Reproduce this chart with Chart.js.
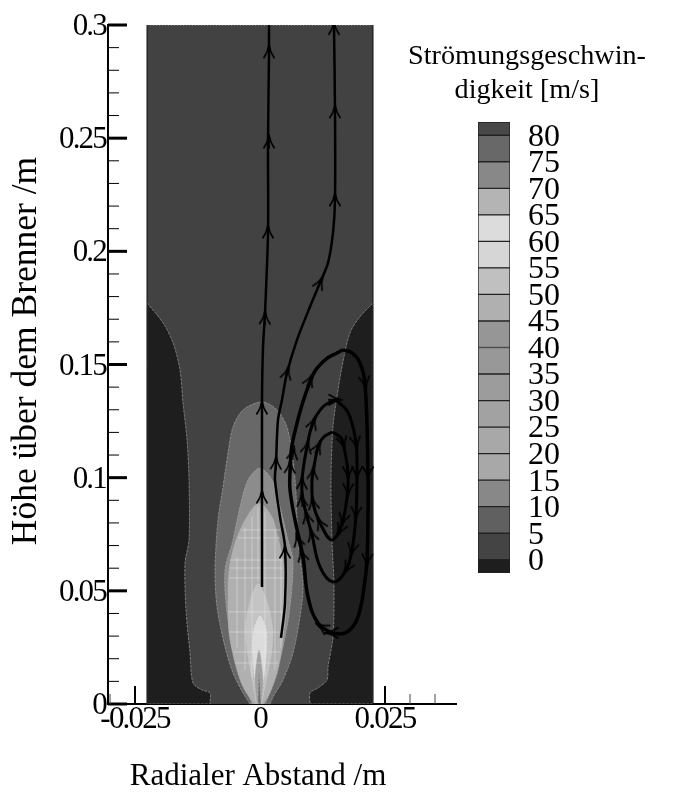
<!DOCTYPE html>
<html>
<head>
<meta charset="utf-8">
<title>Strömungsgeschwindigkeit</title>
<script src="https://cdn.jsdelivr.net/npm/chart.js@4"></script>
<style>
  html, body { margin: 0; padding: 0; background: #fff; }
  #wrap { position: relative; width: 679px; height: 799px; overflow: hidden; }
  #myChart { position: absolute; left: 0; top: 0; }
  #legendChart { position: absolute; left: 478px; top: 72px; }
</style>
</head>
<body>
<div id="wrap">
  <canvas id="myChart" width="679" height="799"></canvas>
  <canvas id="legendChart" width="120" height="551"></canvas>
</div>
<script>
// Axis ticks
const xMajorTicks = [-0.025, 0, 0.025];
const xMinorTicks = [-0.03, -0.02, -0.015, -0.01, -0.005, 0.005, 0.01, 0.015, 0.02, 0.03, 0.035];
const yMajorTicks = [0, 0.05, 0.1, 0.15, 0.2, 0.25, 0.3];
const yMinorTicks = [0.01, 0.02, 0.03, 0.04, 0.06, 0.07, 0.08, 0.09, 0.11, 0.12, 0.13, 0.14,
  0.16, 0.17, 0.18, 0.19, 0.21, 0.22, 0.23, 0.24, 0.26, 0.27, 0.28, 0.29];

// Contour regions, [radius, height] in metres
const domainOutline = [[-0.0226, 0], [-0.0226, 0.3], [0.0226, 0.3], [0.0226, 0]];
const darkLeft = [[-0.0226, 0.1772], [-0.0194, 0.1684], [-0.0174, 0.1596], [-0.016, 0.1476], [-0.0154, 0.133],
  [-0.0146, 0.1167], [-0.0142, 0.099], [-0.0142, 0.0725], [-0.015, 0.0623], [-0.0148, 0.0415], [-0.014, 0.0225],
  [-0.0134, 0.0093], [-0.0116, 0.0062], [-0.01, 0.0049], [-0.01, 0], [-0.0226, 0]];
const darkRight = [[0.0226, 0.1772], [0.02, 0.1711], [0.018, 0.164], [0.0164, 0.149], [0.0154, 0.1357],
  [0.0146, 0.1224], [0.0142, 0.099], [0.0144, 0.0725], [0.0148, 0.0517], [0.0146, 0.0296], [0.0136, 0.0164],
  [0.0134, 0.0106], [0.0116, 0.0071], [0.01, 0.0049], [0.01, 0], [0.0226, 0]];
const level10 = [[-0.002, 0], [-0.0034, 0.0049], [-0.0054, 0.0137], [-0.007, 0.0252], [-0.0086, 0.0429], [-0.009, 0.0592],
  [-0.0084, 0.0813], [-0.0074, 0.0959], [-0.0064, 0.1109], [-0.0054, 0.1224], [-0.0034, 0.1299], [0.0004, 0.1335],
  [0.0034, 0.1299], [0.0054, 0.1224], [0.0066, 0.1078], [0.0072, 0.0933], [0.0076, 0.0725], [0.0086, 0.0517],
  [0.008, 0.0385], [0.0066, 0.0225], [0.0046, 0.0106], [0.0026, 0.0031], [0.002, 0]];
const level15 = [[-0.0016, 0], [-0.0034, 0.0106], [-0.005, 0.0225], [-0.0066, 0.0402], [-0.007, 0.0592], [-0.0054, 0.0725],
  [-0.004, 0.0871], [-0.0024, 0.099], [0, 0.1043], [0.0024, 0.099], [0.004, 0.0871], [0.0056, 0.0725], [0.0066, 0.0636],
  [0.006, 0.0429], [0.0046, 0.0252], [0.0026, 0.0093], [0.0014, 0.0018], [0.001, 0]];
const level20 = [[-0.0012, 0], [-0.0034, 0.0075], [-0.005, 0.0181], [-0.0062, 0.0314], [-0.0064, 0.0482], [-0.0062, 0.0592],
  [-0.005, 0.0712], [-0.003, 0.0813], [-0.0002, 0.0888], [0.0024, 0.0827], [0.0036, 0.0738], [0.0046, 0.0636],
  [0.0054, 0.0504], [0.0046, 0.0283], [0.0036, 0.015], [0.002, 0.0049], [0.0006, 0]];
const level50 = [[-0.0008, 0], [-0.0026, 0.0225], [-0.003, 0.034], [-0.002, 0.046], [-0.0004, 0.0535],
  [0.0014, 0.046], [0.0026, 0.034], [0.0024, 0.0225], [0.0004, 0]];
const level60 = [[-0.0006, 0], [-0.0016, 0.0225], [-0.0014, 0.0327], [0, 0.0393], [0.0014, 0.0327], [0.0014, 0.0225], [0.0002, 0]];
const coreOuter = [[-0.0006, 0], [-0.001, 0.0106], [-0.0002, 0.0239], [0.0006, 0.0106], [0.0002, 0]];
const coreInner = [[-0.0004, 0], [-0.0002, 0.0141], [0.0002, 0]];
const contourRegions = [darkLeft, darkRight, level10, level15, level20, level50, level60, coreOuter, coreInner];
const contourColors = ['#1e1e1e', '#1e1e1e', '#686868', '#8c8c8c', '#b0b0b0', '#c4c4c4', '#dcdcdc', '#a0a0a0', '#6a6a6a'];

// Light mesh lines showing through the jet core, [height, from, to]
const meshRows = [[0.0769, -0.0036, 0.004], [0.0734, -0.0044, 0.004], [0.0636, -0.006, 0.0046], [0.0601, -0.006, 0.0046],
  [0.0557, -0.0062, 0.005], [0.0407, -0.0064, 0.005], [0.0318, -0.0062, 0.0048], [0.023, -0.0052, 0.004], [0.0181, -0.005, 0.0036]];
const meshColumns = [[-0.0046, 0.025, 0.065], [-0.003, 0.015, 0.078], [-0.0016, 0.012, 0.083], [-0.0004, 0.054, 0.087],
  [0.001, 0.012, 0.085], [0.003, 0.015, 0.077], [0.0042, 0.025, 0.065]];

// Streamlines
const streamCentre = [[0.0004, 0.0517], [0.0004, 0.0725], [0.0004, 0.1335], [0.0006, 0.1574], [0.001, 0.1728],
  [0.0016, 0.2082], [0.0016, 0.248], [0.0018, 0.2877], [0.0018, 0.3]];
const streamOuter = [[0.0042, 0.0292], [0.005, 0.0446], [0.005, 0.0694], [0.004, 0.0827], [0.003, 0.099], [0.0032, 0.1065],
  [0.0036, 0.1255], [0.0044, 0.1344], [0.0054, 0.1463], [0.0074, 0.1609], [0.01, 0.1755], [0.012, 0.1861], [0.0136, 0.1949],
  [0.0146, 0.2082], [0.015, 0.2228], [0.015, 0.2617], [0.0148, 0.3]];
const vortexLarge = [[0.0166, 0.1565], [0.0184, 0.1551], [0.02, 0.1507], [0.021, 0.1419], [0.0216, 0.1021], [0.0216, 0.0844], [0.0214, 0.0636],
  [0.021, 0.0548], [0.0196, 0.0385], [0.0174, 0.0318], [0.0146, 0.0314], [0.0116, 0.0358], [0.0096, 0.0473], [0.0086, 0.065],
  [0.007, 0.0813], [0.006, 0.0946], [0.006, 0.1021], [0.0066, 0.1167], [0.0104, 0.1445], [0.013, 0.152], [0.0154, 0.1551], [0.0166, 0.1565]];
const vortexMiddle = [[0.015, 0.1344], [0.017, 0.1308], [0.018, 0.1269], [0.0192, 0.1154], [0.0194, 0.1021], [0.0192, 0.0844], [0.0184, 0.0681],
  [0.017, 0.0583], [0.0146, 0.0539], [0.012, 0.0606], [0.0104, 0.0747], [0.0086, 0.0902], [0.0084, 0.099], [0.0094, 0.1136],
  [0.0106, 0.1242], [0.0126, 0.1313], [0.015, 0.1344]];
const vortexSmall = [[0.0144, 0.1202], [0.016, 0.118], [0.0166, 0.1154], [0.0176, 0.1021], [0.0174, 0.0915], [0.0164, 0.08], [0.0144, 0.0725],
  [0.012, 0.08], [0.0106, 0.0888], [0.0104, 0.099], [0.0106, 0.1021], [0.0116, 0.1136], [0.0126, 0.1176], [0.0144, 0.1202]];

// Arrow heads on the streamlines, [radius, height, heading in degrees]
const arrowHeads = [
  [0.0004, 0.0915, 0], [0.0004, 0.1308, 0], [0.001, 0.1706, 2], [0.0016, 0.2086, 0], [0.0018, 0.2484, 0], [0.0018, 0.2882, 0],
  [0.005, 0.0672, 0], [0.0032, 0.1065, 2], [0.0054, 0.1463, 15], [0.012, 0.1861, 25], [0.015, 0.2228, 0], [0.015, 0.2617, 0], [0.0148, 0.2985, 0],
  [0.01, 0.1432, 25], [0.0066, 0.1109, 8], [0.006, 0.1048, 3], [0.0084, 0.0659, -15], [0.0076, 0.0725, -15],
  [0.021, 0.1419, 172], [0.0216, 0.1021, 180], [0.0214, 0.0636, 183], [0.0124, 0.034, -60], [0.0144, 0.0314, -90],
  [0.0106, 0.1242, 20], [0.0094, 0.1136, 12], [0.0084, 0.0977, 2], [0.0084, 0.0902, -4], [0.0094, 0.0827, -12], [0.0104, 0.0747, -15],
  [0.015, 0.1344, 90], [0.0192, 0.1154, 170], [0.0194, 0.1021, 180], [0.0192, 0.0844, 184], [0.0184, 0.0681, 192], [0.0174, 0.0601, 210],
  [0.0116, 0.1136, 25], [0.0106, 0.1021, 5], [0.0106, 0.0888, -10], [0.012, 0.08, -25],
  [0.0166, 0.1154, 165], [0.0176, 0.1021, 180], [0.0176, 0.0946, 182], [0.0166, 0.0813, 195], [0.016, 0.0769, 205]
];

// Legend
const legendLabels = [0, 5, 10, 15, 20, 25, 30, 35, 40, 45, 50, 55, 60, 65, 70, 75, 80];
const legendEdges = [-2.5, 0, 5, 10, 15, 20, 25, 30, 35, 40, 45, 50, 55, 60, 65, 70, 75, 80, 82.5];
const legendColors = ['#1e1e1e', '#444444', '#606060', '#888888', '#a8a8a8', '#a8a8a8', '#a2a2a2', '#9c9c9c', '#989898',
  '#969696', '#b0b0b0', '#c0c0c0', '#d6d6d6', '#dcdcdc', '#b4b4b4', '#888888', '#686868', '#484848'];

const serif = 'Liberation Serif';
const toPoints = list => list.map(p => ({ x: p[0], y: p[1] }));
// Repeating a point keeps the corner sharp when the curve is smoothed
const keepCorners = list => list.flatMap(p => (p[1] === 0 || Math.abs(p[0]) === 0.0226) ? [p, p] : [p]);

// Small open arrow used as point style
const arrowImage = document.createElement('canvas');
arrowImage.width = 16;
arrowImage.height = 16;
const arrowCtx = arrowImage.getContext('2d');
arrowCtx.strokeStyle = '#000';
arrowCtx.lineWidth = 1.7;
arrowCtx.beginPath();
arrowCtx.moveTo(2.5, 14.5);
arrowCtx.quadraticCurveTo(7, 8, 8, 1);
arrowCtx.quadraticCurveTo(9, 8, 13.5, 14.5);
arrowCtx.moveTo(8, 1);
arrowCtx.lineTo(8, 15);
arrowCtx.stroke();

const meshPoints = [];
meshRows.forEach(r => meshPoints.push({ x: r[1], y: r[0] }, { x: r[2], y: r[0] }, { x: r[2], y: null }));
meshColumns.forEach(c => meshPoints.push({ x: c[0], y: c[1] }, { x: c[0], y: c[2] }, { x: c[0], y: null }));

const lineSet = (list, width, order, tension) => ({
  data: toPoints(list),
  showLine: true,
  borderColor: '#000',
  borderWidth: width,
  pointRadius: 0,
  tension: tension,
  order: order
});

const datasets = [
  {
    data: toPoints(arrowHeads),
    showLine: false,
    pointStyle: arrowImage,
    pointRotation: arrowHeads.map(p => p[2]),
    order: -10
  },
  lineSet(streamCentre, 2.5, -9, 0.3),
  lineSet(streamOuter, 2.5, -8, 0.3),
  lineSet(vortexSmall, 3, -7, 0.4),
  lineSet(vortexMiddle, 3, -6, 0.4),
  lineSet(vortexLarge, 3.5, -5, 0.4),
  {
    data: toPoints([[-0.0226, 0], [-0.0226, 0.3]]),
    showLine: true, borderColor: '#111', borderWidth: 1, pointRadius: 0, order: -4
  },
  {
    data: toPoints([[0.0226, 0], [0.0226, 0.3]]),
    showLine: true, borderColor: '#111', borderWidth: 1, pointRadius: 0, order: -3
  },
  {
    data: toPoints([[-0.0226, 0.3], [0.0226, 0.3]]),
    showLine: true, borderColor: '#aaa', borderWidth: 1, borderDash: [1, 2], pointRadius: 0, order: -2
  },
  {
    data: meshPoints,
    showLine: true, spanGaps: false, borderColor: 'rgba(235,235,235,0.45)', borderWidth: 1, pointRadius: 0, order: -1
  }
];

// First contour region is painted first, so it gets the highest order
contourRegions.forEach((region, i) => {
  datasets.push({
    data: toPoints(keepCorners(region.concat([region[0]]))),
    showLine: true,
    fill: 'shape',
    tension: 0.3,
    backgroundColor: contourColors[i],
    borderColor: 'rgba(175,175,175,0.55)',
    borderWidth: 1,
    borderDash: [3, 1],
    pointRadius: 0,
    order: 20 - i
  });
});
datasets.push({
  data: toPoints(domainOutline.concat([domainOutline[0]])),
  showLine: true,
  fill: 'shape',
  backgroundColor: '#424242',
  borderColor: '#424242',
  borderWidth: 0,
  pointRadius: 0,
  order: 30
});

// Digits sit a little high with a middle baseline, move the value labels down
const nudgeLabels = {
  id: 'nudgeLabels',
  beforeDraw(chart) {
    chart.scales.y.getLabelItems(chart.chartArea).forEach(item => { item.options.translation[1] += 2; });
  }
};

// Inward pointing ticks, the axis titles and the legend heading
const annotations = {
  id: 'annotations',
  beforeDraw(chart) {
    chart.ctx.letterSpacing = '-1.8px';
  },
  beforeDatasetsDraw(chart) {
    const { ctx, scales: { x, y }, chartArea } = chart;
    const tick = (x0, y0, x1, y1, width) => {
      ctx.lineWidth = width;
      ctx.beginPath();
      ctx.moveTo(x0, y0);
      ctx.lineTo(x1, y1);
      ctx.stroke();
    };
    ctx.save();
    ctx.strokeStyle = '#000';
    yMajorTicks.forEach(v => tick(chartArea.left, y.getPixelForValue(v), chartArea.left + 19, y.getPixelForValue(v), 3));
    yMinorTicks.forEach(v => tick(chartArea.left, y.getPixelForValue(v), chartArea.left + 11, y.getPixelForValue(v), 1));
    xMajorTicks.forEach(v => tick(x.getPixelForValue(v), chartArea.bottom, x.getPixelForValue(v), chartArea.bottom - 18, 2));
    ctx.strokeStyle = '#444';
    xMinorTicks.forEach(v => tick(x.getPixelForValue(v), chartArea.bottom, x.getPixelForValue(v), chartArea.bottom - 10, 1));
    ctx.restore();
  },
  afterDraw(chart) {
    const ctx = chart.ctx;
    const label = (text, x, y, size, angle) => {
      ctx.save();
      ctx.translate(x, y);
      ctx.rotate(angle);
      ctx.font = size + 'px "' + serif + '"';
      ctx.fillText(text, 0, 0);
      ctx.restore();
    };
    ctx.save();
    ctx.letterSpacing = '0px';
    ctx.fillStyle = '#000';
    ctx.textAlign = 'center';
    ctx.textBaseline = 'middle';
    label('Radialer Abstand /m', 258, 777, 31, 0);
    label('Strömungsgeschwin-', 527, 57, 28.2, 0);
    label('digkeit [m/s]', 527, 91, 28.2, 0);
    label('Höhe über dem Brenner /m', 27, 351, 35.5, -Math.PI / 2);
    ctx.restore();
  }
};

const config = {
  type: 'scatter',
  data: { datasets: datasets },
  options: {
    responsive: false,
    animation: false,
    events: [],
    layout: { padding: { left: 0, top: 25, right: 223, bottom: 0 } },
    plugins: { legend: { display: false }, tooltip: { enabled: false } },
    scales: {
      x: {
        type: 'linear',
        min: -0.0304,
        max: 0.0392,
        grid: { display: false, drawTicks: false },
        border: { display: true, color: '#000', width: 2 },
        afterBuildTicks: axis => { axis.ticks = xMajorTicks.map(v => ({ value: v })); },
        afterFit: axis => { axis.height = 95; },
        ticks: {
          color: '#000',
          autoSkip: false,
          maxRotation: 0,
          padding: -3,
          font: { family: serif, size: 31 },
          callback: v => String(v)
        }
      },
      y: {
        type: 'linear',
        min: 0,
        max: 0.3,
        grid: { display: false, drawTicks: false },
        border: { display: true, color: '#000', width: 2 },
        afterBuildTicks: axis => { axis.ticks = yMajorTicks.map(v => ({ value: v })); },
        afterFit: axis => { axis.width = 108; },
        ticks: {
          color: '#000',
          autoSkip: false,
          padding: 2,
          font: { family: serif, size: 31 },
          callback: v => String(v)
        }
      }
    }
  },
  plugins: [annotations, nudgeLabels]
};

new Chart(document.getElementById('myChart'), config);

// Colour legend, a floating bar per contour band
const legendConfig = {
  type: 'bar',
  data: {
    labels: [''],
    datasets: legendColors.map((color, i) => ({
      data: [[legendEdges[i], legendEdges[i + 1]]],
      backgroundColor: color,
      borderColor: '#222',
      borderWidth: 1,
      borderSkipped: false,
      grouped: false,
      barPercentage: 1,
      categoryPercentage: 1
    }))
  },
  options: {
    responsive: false,
    animation: false,
    events: [],
    layout: { padding: { top: 50, bottom: 50, left: 0, right: 0 } },
    plugins: { legend: { display: false }, tooltip: { enabled: false } },
    scales: {
      x: { display: false },
      y: {
        position: 'right',
        min: -2.5,
        max: 82.5,
        grid: { display: false, drawTicks: false },
        border: { display: false },
        afterBuildTicks: axis => { axis.ticks = legendLabels.map(v => ({ value: v })); },
        afterFit: axis => { axis.width = 88; },
        ticks: {
          color: '#000',
          autoSkip: false,
          padding: 18,
          font: { family: serif, size: 32 },
          callback: v => String(v)
        }
      }
    }
  },
  plugins: [nudgeLabels]
};

new Chart(document.getElementById('legendChart'), legendConfig);
</script>
</body>
</html>
